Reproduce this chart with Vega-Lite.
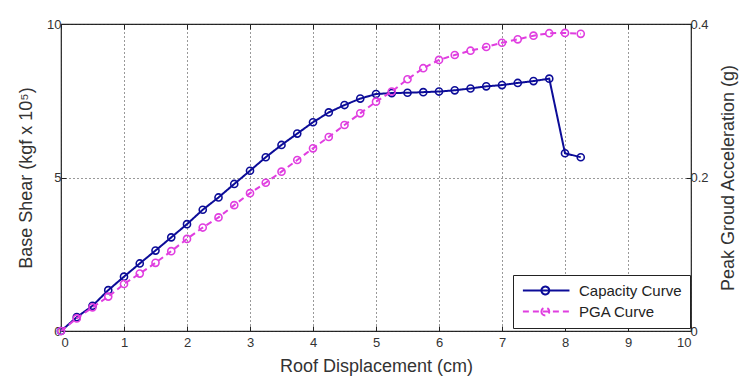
{
  "$schema": "https://vega.github.io/schema/vega-lite/v6.json",
  "width": 630,
  "height": 307,
  "autosize": {"type": "none"},
  "padding": {"left": 61, "top": 24, "right": 63, "bottom": 56},
  "background": "white",
  "config": {
    "font": "Liberation Sans",
    "view": {"stroke": "#222", "strokeWidth": 1.2},
    "axis": {
      "labelFont": "Liberation Sans",
      "labelFontSize": 13,
      "labelColor": "#333",
      "titleFont": "Liberation Sans",
      "titleFontSize": 18,
      "titleFontWeight": "normal",
      "titleColor": "#333",
      "tickColor": "#222",
      "tickSize": -5,
      "tickWidth": 1,
      "domain": false,
      "gridColor": "#333",
      "gridDash": [1, 3],
      "gridWidth": 1,
      "gridOpacity": 1
    },
    "legend": {
      "orient": "none",
      "legendX": 452,
      "legendY": 251,
      "strokeColor": "#222",
      "fillColor": "white",
      "padding": 8,
      "labelFont": "Liberation Sans",
      "labelFontSize": 15,
      "labelColor": "#222",
      "symbolType": "M-1,0H7.3M2.3,0A0.7,0.7,0,1,0,3.7,0A0.7,0.7,0,1,0,2.3,0",
      "symbolSize": 126,
      "symbolStrokeWidth": 2,
      "symbolFillColor": "white",
      "rowPadding": 4,
      "labelOffset": 43
    }
  },
  "datasets": {
    "capacity": [
      {"x": 0, "shear": 0, "series": "Capacity Curve"},
      {"x": 0.25, "shear": 0.45, "series": "Capacity Curve"},
      {"x": 0.5, "shear": 0.82, "series": "Capacity Curve"},
      {"x": 0.75, "shear": 1.33, "series": "Capacity Curve"},
      {"x": 1.0, "shear": 1.77, "series": "Capacity Curve"},
      {"x": 1.25, "shear": 2.2, "series": "Capacity Curve"},
      {"x": 1.5, "shear": 2.62, "series": "Capacity Curve"},
      {"x": 1.75, "shear": 3.05, "series": "Capacity Curve"},
      {"x": 2.0, "shear": 3.48, "series": "Capacity Curve"},
      {"x": 2.25, "shear": 3.95, "series": "Capacity Curve"},
      {"x": 2.5, "shear": 4.35, "series": "Capacity Curve"},
      {"x": 2.75, "shear": 4.79, "series": "Capacity Curve"},
      {"x": 3.0, "shear": 5.22, "series": "Capacity Curve"},
      {"x": 3.25, "shear": 5.66, "series": "Capacity Curve"},
      {"x": 3.5, "shear": 6.06, "series": "Capacity Curve"},
      {"x": 3.75, "shear": 6.43, "series": "Capacity Curve"},
      {"x": 4.0, "shear": 6.8, "series": "Capacity Curve"},
      {"x": 4.25, "shear": 7.12, "series": "Capacity Curve"},
      {"x": 4.5, "shear": 7.36, "series": "Capacity Curve"},
      {"x": 4.75, "shear": 7.57, "series": "Capacity Curve"},
      {"x": 5.0, "shear": 7.72, "series": "Capacity Curve"},
      {"x": 5.25, "shear": 7.75, "series": "Capacity Curve"},
      {"x": 5.5, "shear": 7.76, "series": "Capacity Curve"},
      {"x": 5.75, "shear": 7.78, "series": "Capacity Curve"},
      {"x": 6.0, "shear": 7.8, "series": "Capacity Curve"},
      {"x": 6.25, "shear": 7.84, "series": "Capacity Curve"},
      {"x": 6.5, "shear": 7.9, "series": "Capacity Curve"},
      {"x": 6.75, "shear": 7.97, "series": "Capacity Curve"},
      {"x": 7.0, "shear": 8.01, "series": "Capacity Curve"},
      {"x": 7.25, "shear": 8.08, "series": "Capacity Curve"},
      {"x": 7.5, "shear": 8.14, "series": "Capacity Curve"},
      {"x": 7.75, "shear": 8.22, "series": "Capacity Curve"},
      {"x": 8.0, "shear": 5.79, "series": "Capacity Curve"},
      {"x": 8.25, "shear": 5.66, "series": "Capacity Curve"}
    ],
    "pga": [
      {"x": 0, "pga": 0, "series": "PGA Curve"},
      {"x": 0.25, "pga": 0.0164, "series": "PGA Curve"},
      {"x": 0.5, "pga": 0.0308, "series": "PGA Curve"},
      {"x": 0.75, "pga": 0.0448, "series": "PGA Curve"},
      {"x": 1.0, "pga": 0.0612, "series": "PGA Curve"},
      {"x": 1.25, "pga": 0.0748, "series": "PGA Curve"},
      {"x": 1.5, "pga": 0.0888, "series": "PGA Curve"},
      {"x": 1.75, "pga": 0.104, "series": "PGA Curve"},
      {"x": 2.0, "pga": 0.12, "series": "PGA Curve"},
      {"x": 2.25, "pga": 0.1348, "series": "PGA Curve"},
      {"x": 2.5, "pga": 0.148, "series": "PGA Curve"},
      {"x": 2.75, "pga": 0.164, "series": "PGA Curve"},
      {"x": 3.0, "pga": 0.1796, "series": "PGA Curve"},
      {"x": 3.25, "pga": 0.1932, "series": "PGA Curve"},
      {"x": 3.5, "pga": 0.2076, "series": "PGA Curve"},
      {"x": 3.75, "pga": 0.2228, "series": "PGA Curve"},
      {"x": 4.0, "pga": 0.238, "series": "PGA Curve"},
      {"x": 4.25, "pga": 0.2528, "series": "PGA Curve"},
      {"x": 4.5, "pga": 0.2684, "series": "PGA Curve"},
      {"x": 4.75, "pga": 0.2836, "series": "PGA Curve"},
      {"x": 5.0, "pga": 0.2988, "series": "PGA Curve"},
      {"x": 5.25, "pga": 0.312, "series": "PGA Curve"},
      {"x": 5.5, "pga": 0.328, "series": "PGA Curve"},
      {"x": 5.75, "pga": 0.3424, "series": "PGA Curve"},
      {"x": 6.0, "pga": 0.3532, "series": "PGA Curve"},
      {"x": 6.25, "pga": 0.3596, "series": "PGA Curve"},
      {"x": 6.5, "pga": 0.3652, "series": "PGA Curve"},
      {"x": 6.75, "pga": 0.37, "series": "PGA Curve"},
      {"x": 7.0, "pga": 0.3756, "series": "PGA Curve"},
      {"x": 7.25, "pga": 0.38, "series": "PGA Curve"},
      {"x": 7.5, "pga": 0.3848, "series": "PGA Curve"},
      {"x": 7.75, "pga": 0.388, "series": "PGA Curve"},
      {"x": 8.0, "pga": 0.3884, "series": "PGA Curve"},
      {"x": 8.25, "pga": 0.3872, "series": "PGA Curve"}
    ]
  },
  "layer": [
    {
      "data": {"name": "capacity"},
      "mark": {"type": "line", "strokeWidth": 2},
      "encoding": {
        "x": {"field": "x", "type": "quantitative", "scale": {"domain": [0, 10], "nice": false},
              "axis": {"orient": "bottom", "values": [0,1,2,3,4,5,6,7,8,9,10], "grid": true, "labelPadding": 10, "title": "Roof Displacement (cm)", "titlePadding": 8}},
        "y": {"field": "shear", "type": "quantitative", "scale": {"domain": [0, 10], "nice": false},
              "axis": {"orient": "left", "values": [0, 5, 10], "grid": true, "labelPadding": 5, "title": "Base Shear (kgf x 10⁵)", "titlePadding": 11}},
        "color": {"field": "series", "type": "nominal", "title": null,
                  "scale": {"domain": ["Capacity Curve", "PGA Curve"], "range": ["#0c0c98", "#e03ee0"]}},
        "strokeDash": {"field": "series", "type": "nominal", "title": null,
                  "scale": {"domain": ["Capacity Curve", "PGA Curve"], "range": [[1, 0], [6, 4]]}}
      }
    },
    {
      "data": {"name": "capacity"},
      "mark": {"type": "point", "filled": false, "size": 50, "strokeWidth": 1.6, "opacity": 1},
      "encoding": {
        "x": {"field": "x", "type": "quantitative", "scale": {"domain": [0, 10], "nice": false}, "axis": null},
        "y": {"field": "shear", "type": "quantitative", "scale": {"domain": [0, 10], "nice": false}, "axis": null},
        "color": {"field": "series", "type": "nominal", "title": null,
                  "scale": {"domain": ["Capacity Curve", "PGA Curve"], "range": ["#0c0c98", "#e03ee0"]}}
      }
    },
    {
      "data": {"name": "pga"},
      "mark": {"type": "line", "strokeWidth": 2},
      "encoding": {
        "x": {"field": "x", "type": "quantitative", "scale": {"domain": [0, 10], "nice": false},
              "axis": {"orient": "top", "values": [0,1,2,3,4,5,6,7,8,9,10], "grid": false, "labels": false, "title": null}},
        "y": {"field": "pga", "type": "quantitative", "scale": {"domain": [0, 0.4], "nice": false},
              "axis": {"orient": "right", "values": [0, 0.2, 0.4], "format": "~g", "grid": false, "labelPadding": 4, "title": "Peak Groud Acceleration (g)", "titleAngle": 270, "titlePadding": 29}},
        "color": {"field": "series", "type": "nominal", "title": null,
                  "scale": {"domain": ["Capacity Curve", "PGA Curve"], "range": ["#0c0c98", "#e03ee0"]}},
        "strokeDash": {"field": "series", "type": "nominal", "title": null,
                  "scale": {"domain": ["Capacity Curve", "PGA Curve"], "range": [[1, 0], [6, 4]]}}
      }
    },
    {
      "data": {"name": "pga"},
      "mark": {"type": "point", "filled": false, "size": 50, "strokeWidth": 1.6, "opacity": 1},
      "encoding": {
        "x": {"field": "x", "type": "quantitative", "scale": {"domain": [0, 10], "nice": false}, "axis": null},
        "y": {"field": "pga", "type": "quantitative", "scale": {"domain": [0, 0.4], "nice": false}, "axis": null},
        "color": {"field": "series", "type": "nominal", "title": null,
                  "scale": {"domain": ["Capacity Curve", "PGA Curve"], "range": ["#0c0c98", "#e03ee0"]}}
      }
    }
  ],
  "resolve": {"scale": {"y": "independent"}, "axis": {"x": "independent", "y": "independent"}}
}
